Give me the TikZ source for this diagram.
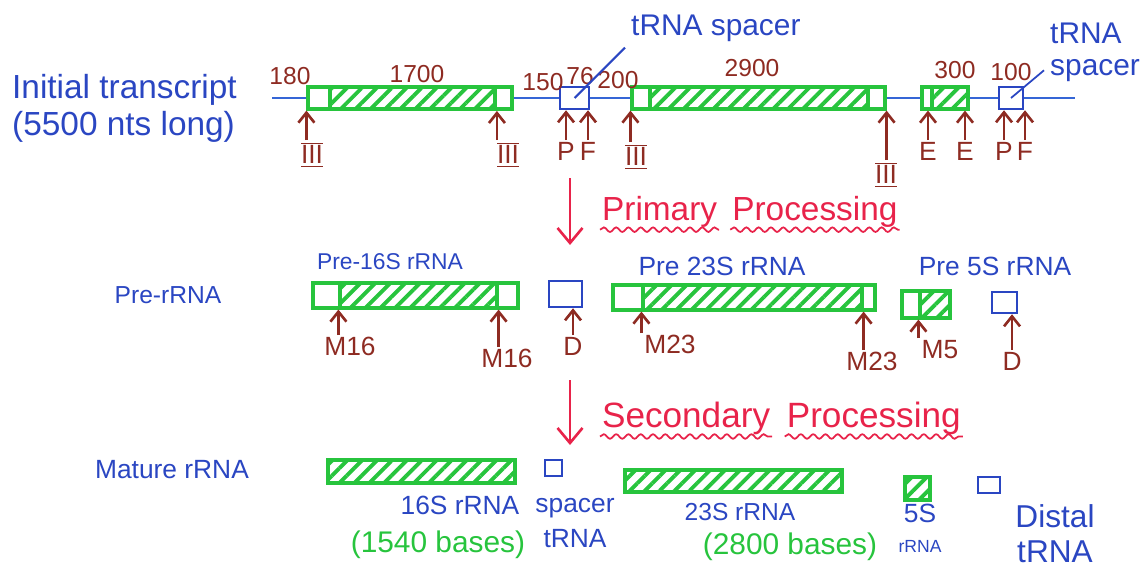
\documentclass[tikz,border=0pt]{standalone}
\usepackage{fontspec}
\setmainfont{Liberation Sans}
\usepackage{tikz}
\usetikzlibrary{arrows.meta,positioning,fit,calc,patterns.meta,decorations.pathmorphing}
\definecolor{RnaBlue}{HTML}{2A46C2}
\definecolor{RnaLine}{HTML}{3566D6}
\definecolor{RnaGreen}{HTML}{27C43D}
\definecolor{RnaBrown}{HTML}{8E2B22}
\definecolor{RnaRed}{HTML}{E8234A}
\newcommand{\barred}[1]{\ensuremath{\overline{\underline{\hbox{#1}}}}}

\begin{document}
\begin{tikzpicture}[
  x=0.02cm, y=-0.02cm,
  gene/.style={draw=RnaGreen, line width=1.8pt, fill=white, inner sep=0pt},
  hatch/.style={draw=RnaGreen, line width=1.8pt, inner sep=0pt, pattern={Lines[angle=45,distance=6pt,line width=2.2pt]}, pattern color=RnaGreen},
  trna/.style={draw=RnaBlue, line width=1.4pt, inner sep=0pt},
  strand/.style={draw=RnaLine, line width=1.2pt},
  cut/.style={-{Straight Barb[length=2mm,width=3.2mm]}, line width=1.5pt, color=RnaBrown},
  enz/.style={text=RnaBrown, font=\fontsize{15}{16}\selectfont, inner sep=1pt},
  len/.style={text=RnaBrown, font=\fontsize{14}{15}\selectfont},
  lbl/.style={text=RnaBlue, font=\fontsize{15}{17}\selectfont, align=center},
  basecount/.style={text=RnaGreen, font=\fontsize{17}{19}\selectfont},
  stage/.style={-{Straight Barb[length=3mm,width=5mm]}, line width=1.5pt, color=RnaRed},
  proc/.style={text=RnaRed, font=\fontsize{19}{21}\selectfont, inner sep=1pt},
  wavy/.style={RnaRed, line width=1pt, decorate, decoration={snake, amplitude=1.3pt, segment length=7pt}}
]
\useasboundingbox (0,0) rectangle (1148,569);

% initial transcript
\node[lbl, align=left, anchor=west, font=\fontsize{19}{21}\selectfont] (init) at (6,108) {Initial transcript\\(5500 nts long)};
\coordinate (s0) at (272,98);
\coordinate (s1) at (1075,98);
\node[gene, fit={(308,87) (512,109)}] (r16) {};
\node[hatch, fit={(330,87) (495,109)}] (h16) {};
\node[trna, fit={(560,87) (589,109)}] (t1) {};
\node[gene, fit={(632,87) (885,109)}] (r23) {};
\node[hatch, fit={(650,87) (868,109)}] (h23) {};
\node[gene, fit={(922,87) (968,109)}] (r5) {};
\node[hatch, fit={(932,87) (968,109)}] (h5) {};
\node[trna, fit={(999,87) (1023,109)}] (t2) {};
\draw[strand] (s0) -- (r16.west) (r16.east) -- (t1.west) (t1.east) -- (r23.west)
  (r23.east) -- (r5.west) (r5.east) -- (t2.west) (t2.east) -- (s1);

\node[len] (n180) at (290,76) {180};
\node[len] (n1700) at (417,74) {1700};
\node[len] (n150) at (543,82) {150};
\node[len] (n76) at (580,76) {76};
\node[len] (n200) at (618,80) {200};
\node[len] (n2900) at (752,68) {2900};
\node[len] (n300) at (955,70) {300};
\node[len] (n100) at (1011,72) {100};

\node[lbl, font=\fontsize{17}{19}\selectfont, anchor=west] (sp1) at (625,28) {tRNA spacer};
\draw[RnaBlue, line width=1.2pt] (sp1.south west) -- (t1.center);
\node[lbl, font=\fontsize{17}{18}\selectfont, align=left, anchor=south west] (sp2) at (1044,88) {tRNA\\spacer};
\draw[RnaBlue, line width=1pt] ($(sp2.south west)!0.5!(sp2.west)$) -- (t2.center);

\node[enz, anchor=north] (e1) at (312,140) {\barred{III}};
\node[enz, anchor=north] (e2) at (508,140) {\barred{III}};
\node[enz, anchor=north] (e3) at (566,140) {P};
\node[enz, anchor=north] (e4) at (588,140) {F};
\node[enz, anchor=north] (e5) at (636,142) {\barred{III}};
\node[enz, anchor=north] (e6) at (886,160) {\barred{III}};
\node[enz, anchor=north] (e7) at (928,140) {E};
\node[enz, anchor=north] (e8) at (965,140) {E};
\node[enz, anchor=north] (e9) at (1004,140) {P};
\node[enz, anchor=north] (e10) at (1025,140) {F};
\draw[cut] (e1.north -| r16.west) -- (r16.south west);
\draw[cut] (e2.north -| h16.east) -- (h16.south east);
\draw[cut] (e3) -- (e3 |- t1.south);
\draw[cut] (e4) -- (e4 |- t1.south);
\draw[cut] (e5.north -| r23.west) -- (r23.south west);
\draw[cut] (e6.north -| r23.east) -- (r23.south east);
\draw[cut] (e7) -- (e7 |- r5.south);
\draw[cut] (e8) -- (e8 |- r5.south);
\draw[cut] (e9) -- (e9 |- t2.south);
\draw[cut] (e10) -- (e10 |- t2.south);

% primary processing
\coordinate (p0) at (570,178);
\coordinate (p1) at (570,245);
\draw[stage] (p0) -- (p1);
\node[proc, anchor=west] (prim) at (600,212) {Primary};
\node[proc, right=0.22cm of prim] (proc1) {Processing};
\draw[wavy] (prim.south west) -- (prim.south east);
\draw[wavy] (proc1.south west) -- (proc1.south east);

% pre-rRNA
\node[lbl, font=\fontsize{14}{16}\selectfont] (prerna) at (168,295) {Pre-rRNA};
\node[lbl, font=\fontsize{13}{15}\selectfont] (lp16) at (390,262) {Pre-16S rRNA};
\node[gene, fit={(313,283) (518,308)}] (p16) {};
\node[hatch, fit={(340,283) (497,308)}] (ph16) {};
\node[trna, fit={(549,281) (582,307)}] (pt1) {};
\node[lbl] (lp23) at (722,266) {Pre 23S rRNA};
\node[gene, fit={(613,285) (875,310)}] (p23) {};
\node[hatch, fit={(643,285) (862,310)}] (ph23) {};
\node[lbl] (lp5) at (995,266) {Pre 5S rRNA};
\node[gene, fit={(902,291) (950,318)}] (p5) {};
\node[hatch, fit={(920,291) (950,318)}] (ph5) {};
\node[trna, fit={(992,292) (1017,313)}] (pt2) {};

\node[enz, anchor=north] (m1) at (350,335) {M16};
\node[enz, anchor=north] (m2) at (507,347) {M16};
\node[enz, anchor=north] (d1) at (573,335) {D};
\node[enz, anchor=north] (m3) at (670,333) {M23};
\node[enz, anchor=north] (m4) at (872,350) {M23};
\node[enz, anchor=north] (m5) at (940,338) {M5};
\node[enz, anchor=north] (d2) at (1012,350) {D};
\draw[cut] (m1.north -| ph16.west) -- (ph16.south west);
\draw[cut] (m2.north -| ph16.east) -- (ph16.south east);
\draw[cut] (d1) -- (d1 |- pt1.south);
\draw[cut] (m3.north -| ph23.west) -- (ph23.south west);
\draw[cut] (m4.north -| ph23.east) -- (ph23.south east);
\draw[cut] (m5.north -| ph5.west) -- (ph5.south west);
\draw[cut] (d2) -- (d2 |- pt2.south);

% secondary processing
\coordinate (q0) at (570,380);
\coordinate (q1) at (570,445);
\draw[stage] (q0) -- (q1);
\node[proc, anchor=west, font=\fontsize{20}{22}\selectfont] (sec) at (600,418) {Secondary};
\node[proc, right=0.25cm of sec, font=\fontsize{20}{22}\selectfont] (proc2) {Processing};
\draw[wavy] (sec.south west) -- (sec.south east);
\draw[wavy] (proc2.south west) -- (proc2.south east);

% mature rRNA
\node[lbl] (mature) at (172,470) {Mature rRNA};
\node[hatch, fit={(328,460) (515,483)}] (m16) {};
\node[trna, fit={(545,460) (562,476)}] (ts) {};
\node[hatch, fit={(625,470) (842,492)}] (m23) {};
\node[hatch, fit={(905,477) (930,500)}] (m5s) {};
\node[trna, fit={(978,477) (1000,493)}] (td) {};
\node[lbl] (l16) at (460,505) {16S rRNA};
\node[basecount] (b16) at (438,545) {(1540 bases)};
\node[lbl, font=\fontsize{15}{20}\selectfont] (lsp) at (575,523) {spacer\\tRNA};
\node[lbl, font=\fontsize{14}{16}\selectfont] (l23) at (740,512) {23S rRNA};
\node[basecount] (b23) at (790,547) {(2800 bases)};
\node[lbl] (l5) at (920,528) {5S\\\fontsize{10}{12}\selectfont rRNA};
\node[lbl, font=\fontsize{18}{20}\selectfont] (ldist) at (1055,534) {Distal\\tRNA};
\end{tikzpicture}
\end{document}
